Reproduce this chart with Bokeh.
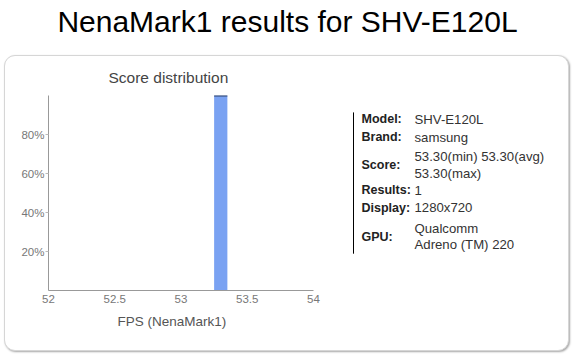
from bokeh.plotting import figure
from bokeh.models import Div, Title, FixedTicker, Range1d, CustomJSTickFormatter
from bokeh.layouts import column, row
from bokeh.embed import file_html
from bokeh.resources import INLINE

# ---- data ----
fps_bins = [53.3]
bin_width = [0.1]
share_pct = [100]
x_ticks = [52, 52.5, 53, 53.5, 54]
y_ticks = [20, 40, 60, 80]
info_labels = ["Model:", "Brand:", "Score:", "Results:", "Display:", "GPU:"]
info_values = [["SHV-E120L"], ["samsung"], ["53.30(min) 53.30(avg)", "53.30(max)"],
               ["1"], ["1280x720"], ["Qualcomm", "Adreno (TM) 220"]]

FONT = "Liberation Sans"

# ---- page title ----
title_div = Div(text="NenaMark1 results for SHV-E120L", width=575, height=55, margin=0,
                styles={"font-family": FONT, "font-size": "30px", "color": "#000",
                        "text-align": "center", "line-height": "44px",
                        "width": "575px"})

# ---- histogram ----
HW, HH = 335, 294          # figure occupies canvas x 5..340, y 56..350
OX, OY = 5, 56
FL, FR, FT, FB = 48, 313, 94, 290
h = figure(width=HW, height=HH, output_backend="svg", toolbar_location=None,
           x_range=Range1d(52, 54), y_range=Range1d(0, 100),
           min_border_left=FL - OX, min_border_right=OX + HW - FR,
           min_border_top=FT - OY, min_border_bottom=OY + HH - FB)
h.outline_line_color = None
h.grid.visible = False
h.border_fill_color = None
h.background_fill_color = None

h.vbar(x=fps_bins, width=bin_width, top=share_pct, bottom=0,
       fill_color="#7aa2f2", line_color=None)
h.segment(x0=[b - w / 2 for b, w in zip(fps_bins, bin_width)],
          x1=[b + w / 2 for b, w in zip(fps_bins, bin_width)],
          y0=share_pct, y1=share_pct, line_color="#2a3f66", line_width=2)

for ax in (h.xaxis[0], h.yaxis[0]):
    ax.axis_line_color = "#999999"
    ax.major_label_text_font = FONT
    ax.major_label_text_font_size = "11.5px"
    ax.major_label_text_color = "#777777"
    ax.minor_tick_line_color = None
    ax.major_tick_line_color = "#bbbbbb"
h.xaxis.ticker = FixedTicker(ticks=x_ticks)
h.xaxis.major_tick_out = 0
h.xaxis.major_tick_in = 0
h.xaxis.major_label_standoff = 4
h.yaxis.ticker = FixedTicker(ticks=y_ticks)
h.yaxis.major_tick_out = 3
h.yaxis.major_tick_in = 0
h.yaxis.major_label_standoff = 1
h.yaxis.formatter = CustomJSTickFormatter(code="return tick + '%';")

h.title.text = "Score distribution"
h.title.text_font = FONT
h.title.text_font_size = "15.5px"
h.title.text_font_style = "normal"
h.title.align = "left"
h.title.offset = 60
h.title.standoff = 20

xlab = Title(text="FPS (NenaMark1)", text_font=FONT, text_font_size="13.5px",
             text_font_style="normal", text_color="#555555", align="left",
             offset=69, standoff=12)
h.add_layout(xlab, "below")

# ---- info panel: its frame is aligned with the histogram frame, so use canvas-pixel
# coordinates whose y extent equals that frame (FT..FB) ----
IX0, IX1 = 340, 568
info = figure(width=IX1 - IX0, height=HH, output_backend="svg", toolbar_location=None,
              x_range=Range1d(IX0, IX1), y_range=Range1d(FB, FT),
              x_axis_type=None, y_axis_type=None, min_border=0)
info.outline_line_color = None
info.grid.visible = False
info.border_fill_color = None
info.background_fill_color = None
info.segment(x0=[353], x1=[353], y0=[111], y1=[253], line_color="#000000", line_width=1)

rows_y = [118, 136, 164, 189, 207, 236]
lx, ly, lt = [], [], []
vx, vy, vt = [], [], []
for lab, vals, ry in zip(info_labels, info_values, rows_y):
    lx.append(361); ly.append(ry); lt.append(lab)
    n = len(vals)
    for i, v in enumerate(vals):
        vx.append(414); vy.append(ry + (i - (n - 1) / 2) * 16.5); vt.append(v)
info.text(x=lx, y=ly, text=lt, text_font={"value": FONT}, text_font_size="12.5px",
          text_font_style="bold", text_color="#222222", text_baseline="middle")
info.text(x=vx, y=vy, text=vt, text_font={"value": FONT}, text_font_size="13.2px",
          text_color="#333333", text_baseline="middle")

body = row(h, info, margin=(0, 0, 0, 4),
           styles={"border": "1px solid #d6d6d6", "border-radius": "11px",
                   "box-shadow": "1px 1px 2px rgba(0,0,0,0.35)",
                   "background": "white"})
page = column(title_div, body, styles={"background": "white"})

open("out.html", "w").write(file_html(page, INLINE))
